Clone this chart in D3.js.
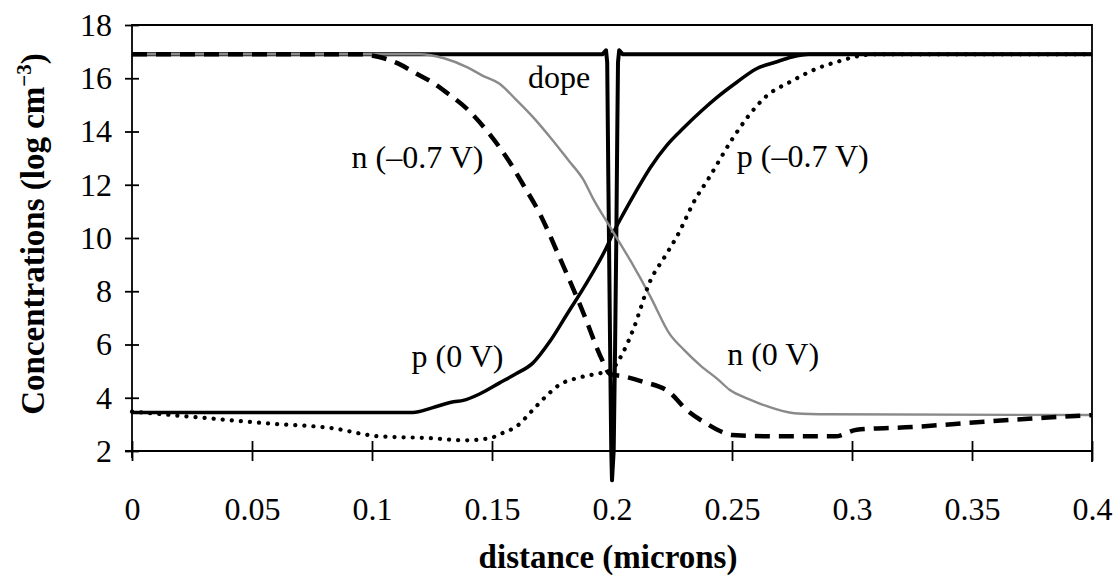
<!DOCTYPE html>
<html>
<head>
<meta charset="utf-8">
<script src="https://cdn.jsdelivr.net/npm/d3@7"></script>
<style>
  body { margin: 0; background: #fff; }
  text { font-family: "Liberation Serif", "Times New Roman", serif; fill: #000; }
</style>
</head>
<body>
<div id="vis"></div>
<script>
// tick values and labels
var xTicks = [0, 0.05, 0.1, 0.15, 0.2, 0.25, 0.3, 0.35, 0.4];
var xTickLabels = ["0", "0.05", "0.1", "0.15", "0.2", "0.25", "0.3", "0.35", "0.4"];
var yTicks = [2, 4, 6, 8, 10, 12, 14, 16, 18];

// series, [distance (microns), log concentration]
var dope = [[0,16.9],[0.196,16.9],[0.1975,17.05],[0.198,16.6],[0.1985,12],[0.1992,6],[0.1997,2],
  [0.2,0.9],[0.2007,2],[0.2013,6],[0.2018,10],[0.2022,14],[0.2025,16.6],[0.203,17.05],[0.2045,16.9],[0.4,16.9]];

var p0V = [[0,3.45],[0.02,3.45],[0.117,3.45],[0.125,3.62],[0.134,3.85],[0.138,3.9],[0.145,4.15],
  [0.153,4.55],[0.16,4.9],[0.167,5.3],[0.174,6.1],[0.181,7.1],[0.19,8.4],[0.198,9.7],[0.2,10.1],
  [0.205,10.95],[0.21,11.75],[0.216,12.65],[0.223,13.5],[0.23,14.15],[0.237,14.75],[0.244,15.3],
  [0.252,15.85],[0.26,16.35],[0.268,16.6],[0.275,16.8],[0.282,16.9],[0.4,16.9]];

var n0V = [[0,16.9],[0.12,16.9],[0.13,16.75],[0.14,16.4],[0.146,16.1],[0.153,15.8],[0.16,15.2],
  [0.167,14.55],[0.175,13.7],[0.182,12.9],[0.188,12.2],[0.192,11.5],[0.2,10.3],[0.208,9.1],
  [0.216,7.8],[0.224,6.4],[0.23,5.8],[0.237,5.2],[0.244,4.7],[0.249,4.3],[0.257,3.95],
  [0.264,3.7],[0.276,3.42],[0.29,3.38],[0.4,3.35]];

var nm07V = [[0,16.9],[0.095,16.9],[0.103,16.8],[0.111,16.55],[0.118,16.2],[0.125,15.85],[0.132,15.4],
  [0.139,14.9],[0.149,13.9],[0.157,12.9],[0.163,12.0],[0.17,10.9],[0.178,9.3],[0.188,7.2],
  [0.196,5.4],[0.199,4.9],[0.205,4.8],[0.213,4.6],[0.224,4.2],[0.231,3.55],[0.239,3.05],
  [0.245,2.75],[0.25,2.6],[0.27,2.55],[0.293,2.55],[0.302,2.8],[0.325,2.9],[0.355,3.1],
  [0.38,3.25],[0.4,3.35]];

var pm07V = [[0,3.48],[0.028,3.26],[0.056,3.04],[0.084,2.85],[0.102,2.56],[0.125,2.48],[0.139,2.4],
  [0.149,2.48],[0.155,2.7],[0.16,2.91],[0.167,3.54],[0.173,4.1],[0.178,4.48],[0.186,4.75],
  [0.195,4.92],[0.199,5.0],[0.2046,5.7],[0.209,6.6],[0.216,8.4],[0.222,9.3],[0.227,10.05],
  [0.235,11.5],[0.24,12.2],[0.25,13.7],[0.257,14.6],[0.264,15.3],[0.275,15.9],[0.285,16.35],
  [0.295,16.65],[0.302,16.82],[0.31,16.9],[0.4,16.9]];

// curve labels (data units, left end of baseline)
var labelTexts = ["dope", "n (\u20130.7 V)", "p (\u20130.7 V)", "p (0 V)", "n (0 V)"];
var labelX = [0.165, 0.0915, 0.252, 0.1165, 0.248];
var labelY = [15.63, 12.63, 12.67, 5.15, 5.23];

var W = 1116, H = 581;
var svg = d3.select("#vis").append("svg").attr("width", W).attr("height", H);

var x = d3.scaleLinear().domain([0, 0.4]).range([132, 1092]);
var y = d3.scaleLinear().domain([2, 18]).range([451, 25]);

// frame (top and right)
svg.append("path")
  .attr("d", "M" + x(0) + "," + y(18) + "H" + x(0.4) + "V" + (y(2) + 11))
  .attr("fill", "none").attr("stroke", "#000").attr("stroke-width", 1.8);

// y axis, ticks cross the line
var gy = svg.append("g").attr("transform", "translate(" + x(0) + ",0)")
  .call(d3.axisLeft(y).tickValues(yTicks).tickSize(7).tickPadding(13).tickFormat(d3.format("d")));
gy.select(".domain").attr("d", "M0," + (y(18) - 1) + "V" + (y(2) + 7)).attr("stroke-width", 1.8);
gy.selectAll(".tick line").attr("x1", 7).attr("x2", -7).attr("stroke-width", 1.8);
gy.selectAll(".tick text").style("font-size", "32px").style("font-family", "'Liberation Serif', serif");

// x axis
var gx = svg.append("g").attr("transform", "translate(0," + y(2) + ")")
  .call(d3.axisBottom(x).tickValues(xTicks).tickSize(10)
    .tickFormat(function(d, i){ return xTickLabels[i]; }));
gx.select(".domain").attr("d", "M" + (x(0) - 7) + ",0H" + x(0.4)).attr("stroke-width", 1.8);
gx.selectAll(".tick line").attr("y1", -10).attr("y2", 10).attr("stroke-width", 1.8);
gx.selectAll(".tick text").attr("y", 69).attr("dy", null)
  .style("font-size", "32px").style("font-family", "'Liberation Serif', serif");

var line = d3.line().x(function(d){ return x(d[0]); }).y(function(d){ return y(d[1]); });
var smooth = d3.line().curve(d3.curveMonotoneX)
  .x(function(d){ return x(d[0]); }).y(function(d){ return y(d[1]); });

// dope first, others drawn over it
svg.append("path").datum(dope).attr("d", line)
  .attr("fill", "none").attr("stroke", "#000").attr("stroke-width", 4).attr("stroke-linejoin", "round");

svg.append("path").datum(p0V).attr("d", smooth)
  .attr("fill", "none").attr("stroke", "#000").attr("stroke-width", 3.5);

svg.append("path").datum(n0V).attr("d", smooth)
  .attr("fill", "none").attr("stroke", "#8a8a8a").attr("stroke-width", 2.4);

svg.append("path").datum(nm07V).attr("d", smooth)
  .attr("fill", "none").attr("stroke", "#000").attr("stroke-width", 4.5)
  .attr("stroke-dasharray", "15 9");

svg.append("path").datum(pm07V).attr("d", smooth)
  .attr("fill", "none").attr("stroke", "#000").attr("stroke-width", 4.2)
  .attr("stroke-linecap", "round").attr("stroke-dasharray", "0.1 9");

// curve labels
svg.selectAll(".lbl").data(labelTexts).enter().append("text")
  .attr("class", "lbl")
  .attr("x", function(d, i){ return x(labelX[i]); })
  .attr("y", function(d, i){ return y(labelY[i]); })
  .style("font-size", "32px")
  .text(function(d){ return d; });

// axis titles
svg.append("text")
  .attr("x", 608).attr("y", 568)
  .attr("text-anchor", "middle")
  .style("font-size", "33px").style("font-weight", "bold")
  .text("distance (microns)");

var yt = svg.append("text")
  .attr("transform", "translate(44,234) rotate(-90)")
  .attr("text-anchor", "middle")
  .style("font-size", "33px").style("font-weight", "bold");
yt.append("tspan").text("Concentrations (log cm");
yt.append("tspan").attr("dy", -13).style("font-size", "21px").text("\u22123");
yt.append("tspan").attr("dy", 13).text(")");
</script>
</body>
</html>
